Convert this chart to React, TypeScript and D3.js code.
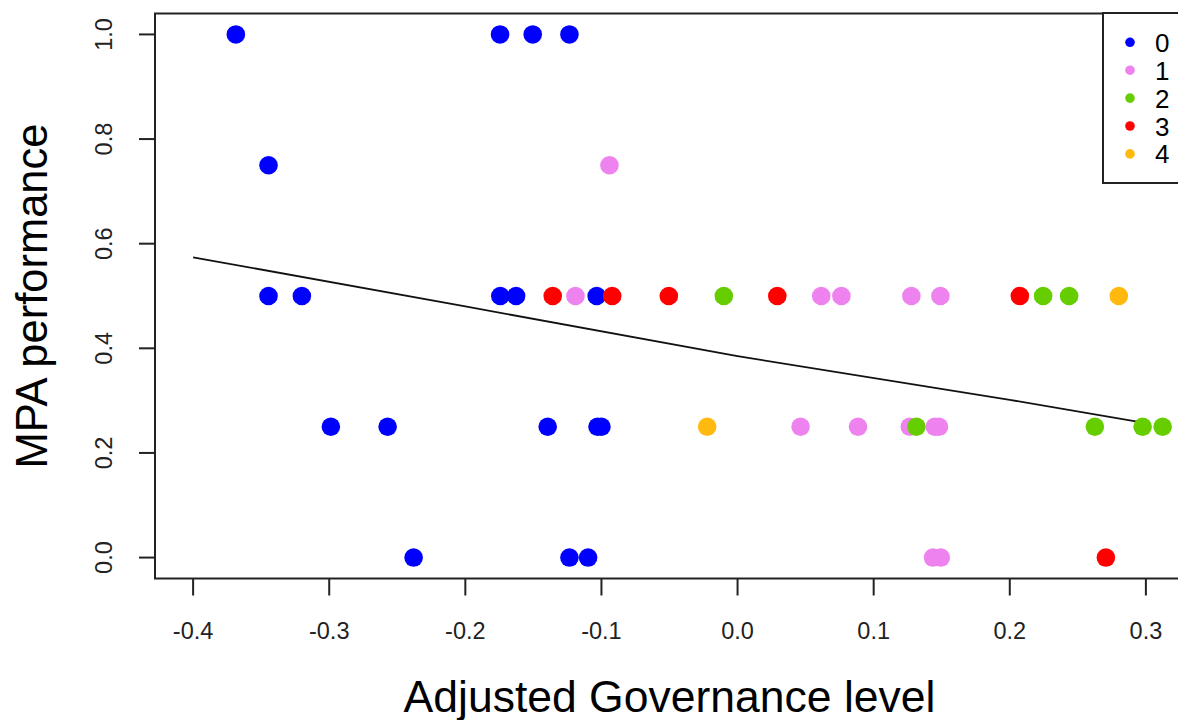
import React from "react";
import * as d3 from "d3";

// governance level (x) and MPA performance (y), one pair of arrays per group
const gov0 = [-0.3686, -0.1745, -0.1505, -0.1235, -0.3446, -0.3446, -0.3201, -0.1743, -0.1627, -0.1035, -0.2988, -0.2571, -0.1395, -0.1029, -0.1, -0.238, -0.1235, -0.1098];
const perf0 = [1, 1, 1, 1, 0.75, 0.5, 0.5, 0.5, 0.5, 0.5, 0.25, 0.25, 0.25, 0.25, 0.25, 0, 0, 0];
const gov1 = [-0.0941, -0.1191, 0.0615, 0.0763, 0.1277, 0.149, 0.0463, 0.0885, 0.1265, 0.1449, 0.148, 0.1436, 0.1493];
const perf1 = [0.75, 0.5, 0.5, 0.5, 0.5, 0.5, 0.25, 0.25, 0.25, 0.25, 0.25, 0, 0];
const gov2 = [-0.0101, 0.2245, 0.2436, 0.1314, 0.2625, 0.2976, 0.3123];
const perf2 = [0.5, 0.5, 0.5, 0.25, 0.25, 0.25, 0.25];
const gov3 = [-0.1358, -0.0921, -0.0505, 0.0292, 0.2074, 0.2706];
const perf3 = [0.5, 0.5, 0.5, 0.5, 0.5, 0];
const gov4 = [0.2801, -0.0223];
const perf4 = [0.5, 0.25];

const groups = ["0", "1", "2", "3", "4"];
const groupGov = [gov0, gov1, gov2, gov3, gov4];
const groupPerf = [perf0, perf1, perf2, perf3, perf4];

// fitted trend line
const fitGov = [-0.4, -0.2, 0, 0.2, 0.3];
const fitPerf = [0.574, 0.48, 0.385, 0.3015, 0.257];

const xTicks = [-0.4, -0.3, -0.2, -0.1, 0, 0.1, 0.2, 0.3];
const yTicks = [0, 0.2, 0.4, 0.6, 0.8, 1.0];

const colors = ["#0000FF", "#EE82EE", "#66CD00", "#FF0000", "#FFB90F"];
const font = "'Liberation Sans', Arial, sans-serif";

// R style labels, plain hyphen for the minus
const fmt = (v: number) => v.toFixed(1);

export default function App() {
  const width = 1178;
  const height = 720;

  const x = d3.scaleLinear().domain([-0.428, 0.328]).range([155, 1184]);
  const y = d3.scaleLinear().domain([-0.04, 1.04]).range([578.5, 13.5]);
  const [x0, x1] = x.range();
  const [yb, yt] = y.range();

  const line = d3
    .line<number>()
    .x((d) => x(d))
    .y((_, i) => y(fitPerf[i]));

  return (
    <svg
      width={width}
      height={height}
      style={{ position: "absolute", left: 0, top: 0, background: "#fff" }}
      fontFamily={font}
    >
      <rect x={x0} y={yt} width={x1 - x0} height={yb - yt} fill="none" stroke="#222" strokeWidth={2} />

      {/* x axis */}
      <g>
        {xTicks.map((t) => (
          <g key={t} transform={`translate(${x(t)},0)`}>
            <line y1={yb} y2={yb + 17} stroke="#222" strokeWidth={2} />
            <text y={639} textAnchor="middle" fontSize={23.5} fill="#222">
              {fmt(t)}
            </text>
          </g>
        ))}
      </g>

      {/* y axis */}
      <g>
        {yTicks.map((t) => (
          <g key={t} transform={`translate(0,${y(t)})`}>
            <line x1={x0} x2={x0 - 16} stroke="#222" strokeWidth={2} />
            <text transform="translate(112,0) rotate(-90)" textAnchor="middle" fontSize={23.5} fill="#222">
              {fmt(t)}
            </text>
          </g>
        ))}
      </g>

      <text x={(x0 + x1) / 2} y={712} textAnchor="middle" fontSize={44.5} fill="#000">
        Adjusted Governance level
      </text>
      <text transform={`translate(47,${(yt + yb) / 2}) rotate(-90)`} textAnchor="middle" fontSize={43.5} fill="#000">
        MPA performance
      </text>

      <path d={line(fitGov) || ""} fill="none" stroke="#111" strokeWidth={1.8} />

      {groups.map((g, gi) => (
        <g key={g} fill={colors[gi]}>
          {groupGov[gi].map((v, i) => (
            <circle key={i} cx={x(v)} cy={y(groupPerf[gi][i])} r={9.3} />
          ))}
        </g>
      ))}

      {/* legend */}
      <rect x={1103} y={13} width={100} height={170} fill="#fff" stroke="#222" strokeWidth={2} />
      {groups.map((g, gi) => (
        <g key={g} transform={`translate(1130,${42.3 + gi * 27.9})`}>
          <circle r={4.8} fill={colors[gi]} />
          <text x={25} y={9.5} fontSize={26} fill="#000">
            {g}
          </text>
        </g>
      ))}
    </svg>
  );
}
